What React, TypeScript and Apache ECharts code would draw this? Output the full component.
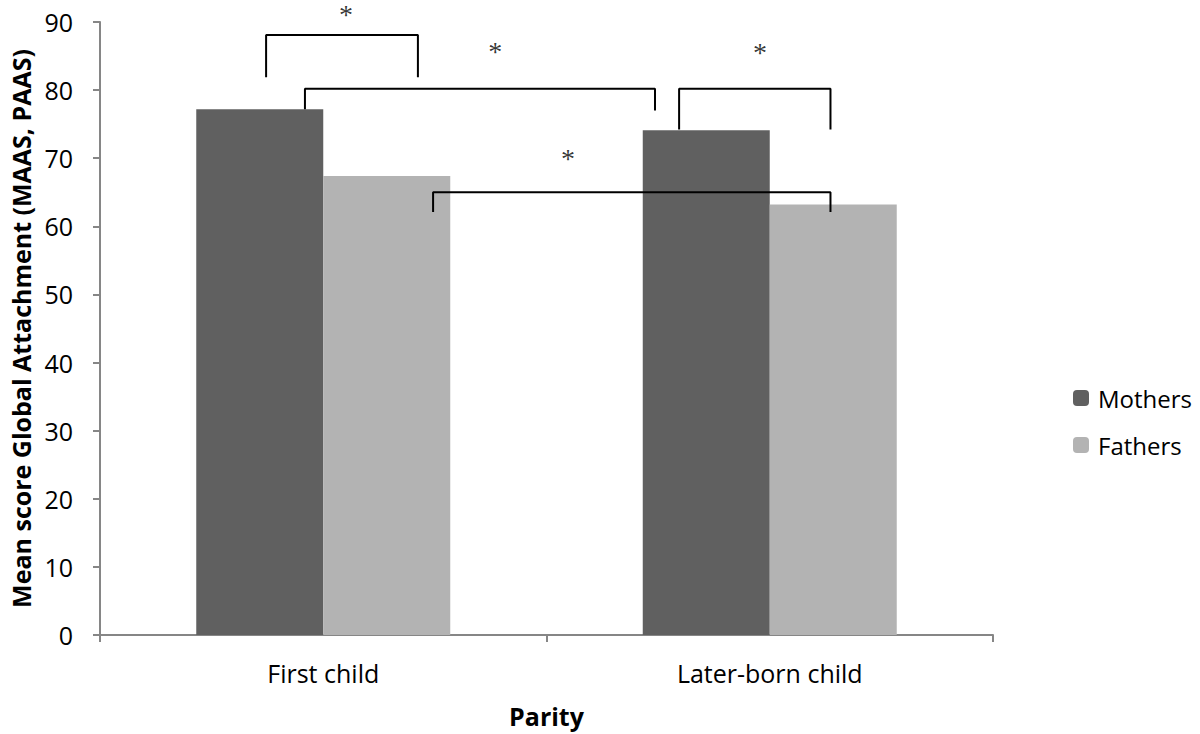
import React, { useEffect, useRef } from "react";
import * as echarts from "echarts";

const categories = ["First child", "Later-born child"];
const mothers = [77.2, 74.1];
const fathers = [67.4, 63.2];
const yTicks = { min: 0, max: 90, interval: 10 };

// brackets: x in category units (category index + offset), y values
const brackets = [
  { x1: -0.128, x2: 0.212, top: 88.1, leftEnd: 81.9, rightEnd: 81.9 },
  { x1: -0.041, x2: 0.743, top: 80.2, leftEnd: 77.2, rightEnd: 77.0 },
  { x1: 0.797, x2: 1.136, top: 80.2, leftEnd: 74.2, rightEnd: 74.2 },
  { x1: 0.246, x2: 1.136, top: 65.0, leftEnd: 62.1, rightEnd: 62.1 },
];
const stars = [
  [0.051, 91.1],
  [0.385, 85.6],
  [0.978, 85.5],
  [0.548, 69.9],
];

const FONT = "Open Sans";

export default function App() {
  const ref = useRef<HTMLDivElement>(null);
  useEffect(() => {
    if (!ref.current) return;
    const chart = echarts.init(ref.current, undefined, { renderer: "svg" });
    const bracketSeries = brackets.map((b) => ({
      type: "line",
      xAxisIndex: 1,
      yAxisIndex: 0,
      symbol: "none",
      clip: false,
      silent: true,
      lineStyle: { color: "#000", width: 2 },
      data: [
        [b.x1, b.leftEnd],
        [b.x1, b.top],
        [b.x2, b.top],
        [b.x2, b.rightEnd],
      ],
      z: 5,
    }));
    chart.setOption({
      animation: false,
      backgroundColor: "#fff",
      grid: { left: 100, right: 207, top: 22, bottom: 99, containLabel: false, outerBoundsMode: "none" },
      legend: {
        orient: "vertical",
        left: 1073,
        top: 386,
        padding: 0,
        itemWidth: 16,
        itemHeight: 16,
        itemGap: 23,
        data: ["Mothers", "Fathers"],
        textStyle: { fontFamily: FONT, fontSize: 24, color: "#000", lineHeight: 24, padding: [0, 0, 0, 4] },
      },
      xAxis: [
        {
          type: "category",
          data: categories,
          axisLine: { onZero: false, lineStyle: { color: "#868686", width: 2 } },
          axisTick: { show: true, length: 7, lineStyle: { color: "#868686", width: 2 } },
          axisLabel: { fontFamily: FONT, fontSize: 25, color: "#000", margin: 25 },
          name: "Parity",
          nameLocation: "middle",
          nameGap: 68,
          nameTextStyle: { fontFamily: FONT, fontSize: 25, fontWeight: "bold", color: "#000" },
        },
        { type: "value", min: -0.5, max: 1.5, show: false },
      ],
      yAxis: {
        type: "value",
        min: yTicks.min,
        max: yTicks.max,
        interval: yTicks.interval,
        splitLine: { show: false },
        axisLine: { show: true, onZero: false, lineStyle: { color: "#868686", width: 2 } },
        axisTick: { show: true, length: 7, lineStyle: { color: "#868686", width: 2 } },
        axisLabel: { fontFamily: FONT, fontSize: 25, color: "#000", margin: 27 },
        name: "Mean score Global Attachment (MAAS, PAAS)",
        nameLocation: "middle",
        nameGap: 67,
        nameTextStyle: { fontFamily: FONT, fontSize: 25, fontWeight: "bold", color: "#000" },
      },
      series: [
        {
          name: "Mothers",
          type: "bar",
          data: mothers,
          barWidth: 127,
          barGap: "0%",
          itemStyle: { color: "#606060" },
        },
        {
          name: "Fathers",
          type: "bar",
          data: fathers,
          barWidth: 127,
          barGap: "0%",
          itemStyle: { color: "#b3b3b3" },
        },
        ...bracketSeries,
        {
          type: "scatter",
          xAxisIndex: 1,
          yAxisIndex: 0,
          symbolSize: 1,
          clip: false,
          silent: true,
          itemStyle: { color: "rgba(0,0,0,0)" },
          data: stars,
          label: {
            show: true,
            position: "inside",
            formatter: "*",
            fontFamily: "Liberation Serif",
            fontSize: 28,
            lineHeight: 16,
            color: "#000",
          },
          z: 6,
        },
      ],
    });
    return () => chart.dispose();
  }, []);
  return (
    <div
      ref={ref}
      style={{ position: "fixed", left: 0, top: 0, width: 1200, height: 734 }}
    />
  );
}
